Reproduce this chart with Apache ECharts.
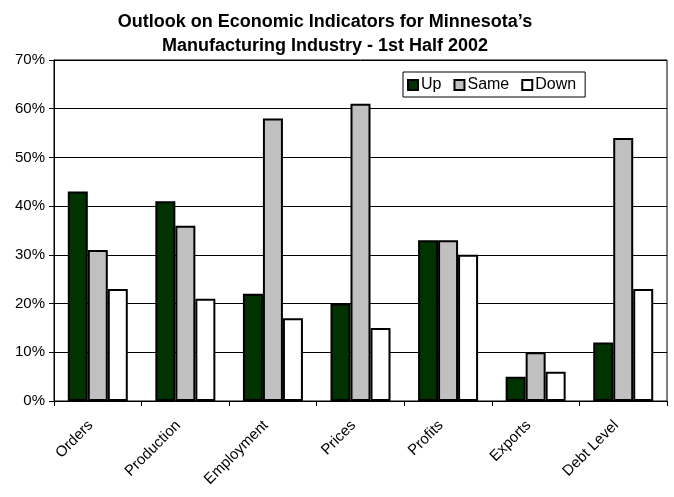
<!DOCTYPE html>
<html><head><meta charset="utf-8">
<script src="https://cdn.jsdelivr.net/npm/echarts@6/dist/echarts.min.js"></script>
<style>html,body{margin:0;padding:0;background:#fff}#c{width:674px;height:497px}</style>
</head><body><div id="c"></div>
<script>
var categories = ['Orders','Production','Employment','Prices','Profits','Exports','Debt Level'];
var upValues   = [43,41,22,20,33,5,12];
var sameValues = [31,36,58,61,33,10,54];
var downValues = [23,21,17,15,30,6,23];
var yTicks = [0,10,20,30,40,50,60,70];

var chart = echarts.init(document.getElementById('c'));
var font = 'Arial, "Liberation Sans", sans-serif';
function bar(name, data, color){
  return {name:name,type:'bar',data:data,barWidth:20,barGap:'0%',
    itemStyle:{color:color,borderColor:'#000',borderWidth:2},
    emphasis:{disabled:true}};
}
chart.setOption({
  animation:false,
  title:{text:'Outlook on Economic Indicators for Minnesota\u2019s\nManufacturing Industry - 1st Half 2002',
    left:320,top:5,textAlign:'center',
    textStyle:{fontFamily:font,fontSize:18,fontWeight:'bold',color:'#000',lineHeight:24}},
  legend:{data:['Up','Same','Down'],left:403,top:72,
    padding:[5,9,4,4],itemGap:12,itemWidth:10,itemHeight:10,
    borderColor:'#000',borderWidth:1,backgroundColor:'#fff',
    icon:'rect',
    textStyle:{fontFamily:font,fontSize:16,color:'#000',padding:[0,0,0,-2]}},
  grid:{left:54,right:7,top:60,bottom:96,show:true,borderColor:'#000',borderWidth:1},
  xAxis:{type:'category',data:categories,
    axisLine:{lineStyle:{color:'#000',width:1}},
    axisTick:{show:true,alignWithLabel:false,length:5,lineStyle:{color:'#000'}},
    axisLabel:{rotate:45,fontFamily:font,fontSize:15,color:'#000',margin:15,padding:[0,10,0,0]}},
  yAxis:{type:'value',min:0,max:70,interval:10,
    axisLine:{show:true,lineStyle:{color:'#000'}},
    axisTick:{show:true,length:5,lineStyle:{color:'#000'}},
    splitLine:{lineStyle:{color:'#000',width:1}},
    axisLabel:{fontFamily:font,fontSize:15,color:'#000',margin:9,
      formatter:function(v){return yTicks.indexOf(v)>=0? v+'%':'';}}},
  series:[bar('Up',upValues,'#003300'),bar('Same',sameValues,'#c0c0c0'),bar('Down',downValues,'#ffffff')]
});
</script></body></html>
